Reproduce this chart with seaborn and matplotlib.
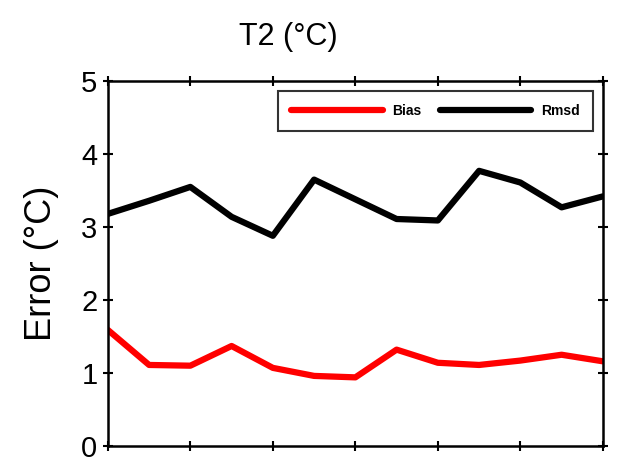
import numpy as np
import pandas as pd
import matplotlib
matplotlib.use("Agg")
import matplotlib.pyplot as plt
import seaborn as sns

# ==========================
# Data
# ==========================

steps = list(range(13))
bias = [1.59, 1.11, 1.10, 1.37, 1.07, 0.96, 0.94, 1.32, 1.14, 1.11, 1.17, 1.25, 1.16]
rmsd = [3.18, 3.36, 3.55, 3.14, 2.88, 3.65, 3.38, 3.11, 3.09, 3.77, 3.61, 3.27, 3.42]
series_names = ["Bias", "Rmsd"]
series_colors = ["#ff0000", "#000000"]

df = pd.DataFrame({
    "step": steps * 2,
    "value": bias + rmsd,
    "series": [series_names[0]] * len(steps) + [series_names[1]] * len(steps),
})

# ==========================
# Plot
# ==========================

sns.set_style("white")
plt.rcParams["font.family"] = ["Liberation Sans", "DejaVu Sans"]
plt.rcParams["text.color"] = "black"
plt.rcParams["axes.labelcolor"] = "black"
plt.rcParams["ytick.color"] = "black"
plt.rcParams["xtick.color"] = "black"

fig = plt.figure(figsize=(6.42, 4.66), dpi=100)
ax = fig.add_axes([0.168, 0.043, 0.771, 0.783])

sns.lineplot(
    data=df,
    x="step",
    y="value",
    hue="series",
    palette=series_colors,
    linewidth=4.5,
    ax=ax,
)

ax.set_xlim(0, 12)
ax.set_ylim(0, 5)
ax.set_xticks(np.arange(0, 13, 2))
ax.set_xticklabels([])
ax.set_yticks(range(6))
ax.tick_params(axis="y", labelsize=21, direction="inout", length=7, width=1.5, pad=4,
               left=True, right=True)
ax.tick_params(axis="x", direction="inout", length=7, width=1.5, bottom=True, top=True)
for s in ax.spines.values():
    s.set_linewidth(1.8)
    s.set_color("black")

ax.set_xlabel("")
ax.set_ylabel("Error (°C)", fontsize=26, labelpad=16)
fig.text(288 / 642, 1 - 37 / 466, "T2 (°C)", fontsize=22, ha="center", va="center")

leg = ax.legend(
    loc="upper right",
    ncol=2,
    fontsize=10,
    frameon=True,
    fancybox=False,
    edgecolor="black",
    handlelength=6.6,
    handletextpad=0.7,
    columnspacing=1.3,
    borderpad=0.95,
    borderaxespad=0.7,
)
leg.get_frame().set_linewidth(1.5)
for t in leg.get_texts():
    t.set_fontweight("bold")

plt.savefig("out.png", dpi=100)
